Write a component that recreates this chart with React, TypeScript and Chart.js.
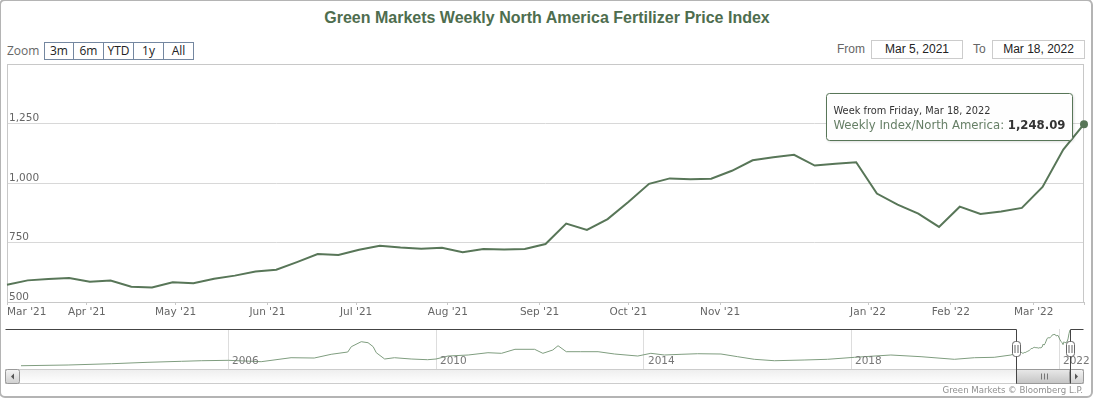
import React, { useEffect, useRef } from 'react';
import { Chart, registerables } from 'chart.js';

Chart.register(...registerables);

// ---------------- data ----------------
const TITLE = 'Green Markets Weekly North America Fertilizer Price Index';
const SERIES_NAME = 'Weekly Index/North America';
const CREDITS = 'Green Markets \u00A9 Bloomberg L.P.';
const ZOOM_BUTTONS = ['3m', '6m', 'YTD', '1y', 'All'];
const FROM_LABEL = 'Mar 5, 2021';
const TO_LABEL = 'Mar 18, 2022';

const weekDates = [
  '2021-03-05', '2021-03-12', '2021-03-19', '2021-03-26', '2021-04-02', '2021-04-09', '2021-04-16',
  '2021-04-23', '2021-04-30', '2021-05-07', '2021-05-14', '2021-05-21', '2021-05-28', '2021-06-04',
  '2021-06-11', '2021-06-18', '2021-06-25', '2021-07-02', '2021-07-09', '2021-07-16', '2021-07-23',
  '2021-07-30', '2021-08-06', '2021-08-13', '2021-08-20', '2021-08-27', '2021-09-03', '2021-09-10',
  '2021-09-17', '2021-09-24', '2021-10-01', '2021-10-08', '2021-10-15', '2021-10-22', '2021-10-29',
  '2021-11-05', '2021-11-12', '2021-11-19', '2021-12-03', '2021-12-10', '2021-12-17', '2021-12-24',
  '2022-01-07', '2022-01-14', '2022-01-21', '2022-01-28', '2022-02-04', '2022-02-11', '2022-02-18',
  '2022-02-25', '2022-03-04', '2022-03-11', '2022-03-18',
];
const weekValues = [
  573, 591, 597, 601, 585, 590, 564,
  561, 583, 579, 598, 611, 628, 636,
  668, 702, 698, 720, 737, 729, 724,
  728, 709, 723, 721, 723, 744, 830,
  803, 849, 921, 997, 1020, 1016, 1019,
  1052, 1096, 1109, 1119, 1074, 1082, 1088,
  956, 910, 872, 816, 901, 870, 881,
  896, 984, 1141, 1248.09,
];

const monthTickDates = [
  '2021-03-01', '2021-04-01', '2021-05-01', '2021-06-01', '2021-07-01', '2021-08-01',
  '2021-09-01', '2021-10-01', '2021-11-01', '2022-01-01', '2022-02-01', '2022-03-01',
];
const monthTickLabels = [
  "Mar '21", "Apr '21", "May '21", "Jun '21", "Jul '21", "Aug '21",
  "Sep '21", "Oct '21", "Nov '21", "Jan '22", "Feb '22", "Mar '22",
];
const yTickValues = [500, 750, 1000, 1250];
const yAxisMin = 500;
const yAxisMax = 1500;

// long history shown in the navigator (before the weekly window)
const navHistoryDates = [
  '2002-01-04', '2002-12-01', '2003-10-01', '2004-06-15', '2005-02-05', '2005-06-25', '2006-01-01',
  '2006-08-20', '2007-03-18', '2007-08-28', '2007-12-25', '2008-04-20', '2008-05-15', '2008-07-24',
  '2008-09-10', '2008-10-16', '2008-11-07', '2009-01-05', '2009-03-15', '2009-07-10', '2009-11-03',
  '2010-01-01', '2010-03-26', '2010-08-15', '2011-01-01', '2011-04-06', '2011-07-10', '2011-11-25',
  '2012-01-22', '2012-04-01', '2012-05-08', '2012-07-05', '2012-10-15', '2013-02-14', '2013-06-10',
  '2013-11-20', '2014-02-20', '2014-05-26', '2014-09-20', '2015-01-15', '2015-06-28', '2015-10-23',
  '2016-02-17', '2016-07-08', '2017-02-02', '2017-07-16', '2018-01-23', '2018-10-05', '2019-05-05',
  '2019-12-25', '2020-05-15', '2020-10-01', '2021-01-27',
];
const navHistoryValues = [
  191, 212, 250, 292, 322, 339, 351,
  310, 428, 419, 529, 597, 754, 902,
  872, 754, 576, 390, 428, 390, 369,
  390, 478, 508, 576, 558, 677, 677,
  558, 656, 783, 606, 606, 606, 538,
  478, 558, 508, 529, 546, 538, 458,
  381, 339, 360, 381, 440, 508, 458,
  381, 428, 440, 508,
];
const navYearTicks = [2006, 2010, 2014, 2018, 2022];
const navYMin = 94;
const navYMax = 1278;

// ---------------- styles ----------------
const LINE_COLOR = '#587658';
const NAV_LINE_COLOR = '#7f9d7f';
const TITLE_COLOR = '#4e6d4e';
const AXIS_FONT = 'DejaVu Sans';

// ---------------- helpers ----------------
const ts = (s: string) => Date.parse(s + 'T00:00:00Z');
const toYear = (s: string) => {
  const y = +s.slice(0, 4);
  const a = Date.UTC(y, 0, 1);
  const b = Date.UTC(y + 1, 0, 1);
  return y + (ts(s) - a) / (b - a);
};
const ordinalIndex = (s: string) => {
  const t = ts(s);
  const list = weekDates.map(ts);
  if (t <= list[0]) return 0;
  for (let i = 1; i < list.length; i++) {
    if (t <= list[i]) return i - 1 + (t - list[i - 1]) / (list[i] - list[i - 1]);
  }
  return list.length - 1;
};
const MONTHS = ['Jan', 'Feb', 'Mar', 'Apr', 'May', 'Jun', 'Jul', 'Aug', 'Sep', 'Oct', 'Nov', 'Dec'];
const DAYS = ['Sunday', 'Monday', 'Tuesday', 'Wednesday', 'Thursday', 'Friday', 'Saturday'];
const fmtDate = (s: string) => {
  const d = new Date(ts(s));
  return `${MONTHS[d.getUTCMonth()]} ${d.getUTCDate()}, ${d.getUTCFullYear()}`;
};
const weekday = (s: string) => DAYS[new Date(ts(s)).getUTCDay()];

function roundRect(ctx: CanvasRenderingContext2D, x: number, y: number, w: number, h: number, r: number) {
  ctx.beginPath();
  ctx.moveTo(x + r, y);
  ctx.lineTo(x + w - r, y);
  ctx.arcTo(x + w, y, x + w, y + r, r);
  ctx.lineTo(x + w, y + h - r);
  ctx.arcTo(x + w, y + h, x + w - r, y + h, r);
  ctx.lineTo(x + r, y + h);
  ctx.arcTo(x, y + h, x, y + h - r, r);
  ctx.lineTo(x, y + r);
  ctx.arcTo(x, y, x + r, y, r);
  ctx.closePath();
}

const plotBorderPlugin = {
  id: 'plotBorder',
  beforeDatasetsDraw(chart: any) {
    const { ctx, chartArea: a } = chart;
    ctx.save();
    ctx.strokeStyle = '#c8c8c8';
    ctx.lineWidth = 1;
    ctx.strokeRect(Math.round(a.left) + 0.5, Math.round(a.top) + 0.5, Math.round(a.right - a.left) - 1, Math.round(a.bottom - a.top));
    ctx.restore();
  },
};

const tooltipPlugin = {
  id: 'fixedTooltip',
  afterDraw(chart: any) {
    const meta = chart.getDatasetMeta(0);
    const i = weekValues.length - 1;
    const pt = meta.data[i];
    if (!pt) return;
    const { ctx } = chart;
    const l1 = `Week from ${weekday(weekDates[i])}, ${fmtDate(weekDates[i])}`;
    const l2a = `${SERIES_NAME}: `;
    const l2b = weekValues[i].toLocaleString('en-US', { minimumFractionDigits: 2, maximumFractionDigits: 2 });
    const f1 = `9.8px "${AXIS_FONT}"`;
    const f2 = `11.7px "${AXIS_FONT}"`;
    const f2b = `bold 11.7px "${AXIS_FONT}"`;
    ctx.save();
    ctx.font = f1;
    const w1 = ctx.measureText(l1).width;
    ctx.font = f2;
    const w2a = ctx.measureText(l2a).width;
    ctx.font = f2b;
    const w2b = ctx.measureText(l2b).width;
    const pad = 7;
    const w = Math.round(Math.max(w1, w2a + w2b) + pad * 2);
    const h = 47;
    const x = Math.round(pt.x - 12 - w) + 0.5;
    const y = Math.round(pt.y - 31) + 0.5;
    ctx.shadowColor = 'rgba(0,0,0,0.18)';
    ctx.shadowBlur = 3;
    ctx.shadowOffsetX = 1;
    ctx.shadowOffsetY = 1;
    roundRect(ctx, x, y, w, h, 3);
    ctx.fillStyle = 'rgba(255,255,255,0.96)';
    ctx.fill();
    ctx.shadowColor = 'transparent';
    ctx.strokeStyle = LINE_COLOR;
    ctx.lineWidth = 1;
    ctx.stroke();
    ctx.textBaseline = 'middle';
    ctx.textAlign = 'left';
    ctx.font = f1;
    ctx.fillStyle = '#333333';
    ctx.fillText(l1, x + pad, y + 17.5);
    ctx.font = f2;
    ctx.fillStyle = '#667f66';
    ctx.fillText(l2a, x + pad, y + 32.5);
    ctx.font = f2b;
    ctx.fillStyle = '#333333';
    ctx.fillText(l2b, x + pad + w2a, y + 32.5);
    ctx.restore();
  },
};

const navigatorPlugin = {
  id: 'navigatorDecor',
  afterDraw(chart: any) {
    const { ctx, chartArea: a } = chart;
    const xs = chart.scales.x;
    const lx = Math.round(xs.getPixelForValue(toYear(weekDates[0]))) + 0.5;
    const rx = Math.round(xs.getPixelForValue(toYear(weekDates[weekDates.length - 1]))) + 0.5;
    const sb = 14;
    const top = Math.round(a.top) + 0.5;
    const sbTop = Math.round(a.bottom) + 0.5;
    const sbBottom = sbTop + sb;
    const sbLeft = Math.round(a.left) - sb - 1.5;
    const sbRight = Math.round(a.right) + sb - 0.5;
    ctx.save();
    ctx.lineWidth = 1;

    // year labels inside the navigator
    ctx.font = `10.5px "${AXIS_FONT}"`;
    ctx.fillStyle = '#777777';
    ctx.textAlign = 'left';
    ctx.textBaseline = 'middle';
    for (const yr of navYearTicks) {
      const px = xs.getPixelForValue(yr);
      ctx.fillText(String(yr), Math.round(px) + 4, a.bottom - 7.5);
    }

    // scrollbar track
    let g = ctx.createLinearGradient(0, sbTop, 0, sbBottom);
    g.addColorStop(0, '#eeeeee');
    g.addColorStop(1, '#ffffff');
    ctx.fillStyle = g;
    ctx.fillRect(sbLeft, sbTop, sbRight - sbLeft, sb);
    ctx.strokeStyle = '#cccccc';
    ctx.strokeRect(sbLeft, sbTop, sbRight - sbLeft, sb);

    // scrollbar thumb
    g = ctx.createLinearGradient(0, sbTop, 0, sbBottom);
    g.addColorStop(0, '#e8e8e8');
    g.addColorStop(1, '#c4c4c4');
    ctx.fillStyle = g;
    ctx.fillRect(lx, sbTop, rx - lx, sb);
    ctx.strokeStyle = '#999999';
    ctx.strokeRect(lx, sbTop, rx - lx, sb);
    const cx = Math.round((lx + rx) / 2) + 0.5;
    ctx.strokeStyle = '#777777';
    ctx.beginPath();
    for (const d of [-3, 0, 3]) {
      ctx.moveTo(cx + d, sbTop + 4);
      ctx.lineTo(cx + d, sbTop + 10);
    }
    ctx.stroke();

    // scrollbar buttons
    const drawButton = (bx: number, dir: number) => {
      const gg = ctx.createLinearGradient(0, sbTop, 0, sbBottom);
      gg.addColorStop(0, '#f4f4f4');
      gg.addColorStop(1, '#d0d0d0');
      roundRect(ctx, bx, sbTop, sb, sb, 2);
      ctx.fillStyle = gg;
      ctx.fill();
      ctx.strokeStyle = '#999999';
      ctx.stroke();
      const mx = bx + sb / 2;
      const my = sbTop + sb / 2;
      ctx.beginPath();
      ctx.moveTo(mx - 1.5 * dir, my);
      ctx.lineTo(mx + 1.5 * dir, my - 3);
      ctx.lineTo(mx + 1.5 * dir, my + 3);
      ctx.closePath();
      ctx.fillStyle = '#555555';
      ctx.fill();
    };
    drawButton(sbLeft, 1);
    drawButton(sbRight - sb, -1);

    // outline
    ctx.strokeStyle = '#444444';
    ctx.beginPath();
    ctx.moveTo(sbLeft, top);
    ctx.lineTo(lx, top);
    ctx.lineTo(lx, sbBottom);
    ctx.moveTo(rx, sbBottom);
    ctx.lineTo(rx, top);
    ctx.lineTo(sbRight, top);
    ctx.stroke();

    // handles
    const my = Math.round((a.top + a.bottom) / 2);
    for (const hx of [lx, rx]) {
      roundRect(ctx, hx - 4, my - 7.5, 8, 15, 3);
      ctx.fillStyle = '#ffffff';
      ctx.fill();
      ctx.strokeStyle = '#666666';
      ctx.stroke();
      ctx.beginPath();
      ctx.moveTo(hx - 1.5, my - 4);
      ctx.lineTo(hx - 1.5, my + 4);
      ctx.moveTo(hx + 1.5, my - 4);
      ctx.lineTo(hx + 1.5, my + 4);
      ctx.stroke();
    }
    ctx.restore();
  },
};

// ---------------- component ----------------
export default function App() {
  const mainRef = useRef<HTMLCanvasElement | null>(null);
  const navRef = useRef<HTMLCanvasElement | null>(null);

  useEffect(() => {
    const axisFont = { family: AXIS_FONT, size: 10.5 };
    const monthPos = monthTickDates.map(ordinalIndex);
    const lastIdx = weekValues.length - 1;

    const main = new Chart(mainRef.current as HTMLCanvasElement, {
      type: 'line',
      data: {
        datasets: [
          {
            label: SERIES_NAME,
            data: weekValues.map((v, i) => ({ x: i, y: v })),
            borderColor: LINE_COLOR,
            backgroundColor: LINE_COLOR,
            borderWidth: 2,
            tension: 0,
            fill: false,
            clip: false,
            pointRadius: (c: any) => (c.dataIndex === lastIdx ? 4 : 0),
            pointBackgroundColor: LINE_COLOR,
            pointBorderWidth: 0,
          },
        ],
      },
      options: {
        responsive: false,
        animation: false,
        devicePixelRatio: 1,
        events: [],
        layout: { padding: { left: 7, right: 10, top: 8, bottom: 0 } },
        plugins: { legend: { display: false }, tooltip: { enabled: false }, title: { display: false } },
        scales: {
          x: {
            type: 'linear',
            min: 0,
            max: lastIdx,
            afterBuildTicks: (s: any) => {
              s.ticks = monthPos.map((v) => ({ value: v })).concat([{ value: lastIdx }]);
            },
            afterFit: (s: any) => {
              s.height = 24;
            },
            grid: { drawOnChartArea: false, drawTicks: true, tickLength: 3, color: '#c8c8c8' },
            border: { display: false },
            ticks: {
              autoSkip: false,
              maxRotation: 0,
              align: 'inner',
              padding: 1,
              color: '#666666',
              font: axisFont,
              callback: (_v: any, i: number) => monthTickLabels[i] ?? '',
            },
          },
          y: {
            type: 'linear',
            min: yAxisMin,
            max: yAxisMax,
            afterBuildTicks: (s: any) => {
              s.ticks = yTickValues.concat([yAxisMax]).map((v) => ({ value: v }));
            },
            afterFit: (s: any) => {
              s.width = 0;
            },
            grid: { color: '#d8d8d8', drawTicks: false },
            border: { display: false },
            ticks: {
              mirror: true,
              padding: 2,
              labelOffset: -5,
              color: '#666666',
              font: axisFont,
              callback: (v: any) => (yTickValues.includes(v) ? Number(v).toLocaleString('en-US') : ''),
            },
          },
        },
      } as any,
      plugins: [plotBorderPlugin, tooltipPlugin],
    });

    const navData = [
      ...navHistoryDates.map((d, i) => ({ x: toYear(d), y: navHistoryValues[i] })),
      ...weekDates.map((d, i) => ({ x: toYear(d), y: weekValues[i] })),
    ];

    const nav = new Chart(navRef.current as HTMLCanvasElement, {
      type: 'line',
      data: {
        datasets: [
          {
            data: navData,
            borderColor: NAV_LINE_COLOR,
            borderWidth: 1,
            pointRadius: 0,
            tension: 0,
            fill: false,
          },
        ],
      },
      options: {
        responsive: false,
        animation: false,
        devicePixelRatio: 1,
        events: [],
        layout: { padding: { left: 21, right: 24, top: 3, bottom: 30 } },
        plugins: { legend: { display: false }, tooltip: { enabled: false } },
        scales: {
          x: {
            type: 'linear',
            min: navData[0].x,
            max: navData[navData.length - 1].x,
            afterBuildTicks: (s: any) => {
              s.ticks = navYearTicks.map((v) => ({ value: v }));
            },
            afterFit: (s: any) => {
              s.height = 0;
            },
            grid: { drawOnChartArea: true, drawTicks: false, color: '#dddddd' },
            border: { display: false },
            ticks: { display: false },
          },
          y: { display: false, min: navYMin, max: navYMax },
        },
      } as any,
      plugins: [navigatorPlugin],
    });

    return () => {
      main.destroy();
      nav.destroy();
    };
  }, []);

  const uiFont = '"Open Sans", "Noto Sans", sans-serif';
  const arial = '"Liberation Sans", Arial, sans-serif';

  return (
    <div style={{ position: 'absolute', left: 0, top: 0, width: 1094, height: 399, background: '#ffffff', overflow: 'hidden' }}>
      <div
        style={{
          position: 'absolute', left: 0, top: 8, width: 1094, textAlign: 'center', fontFamily: arial,
          fontWeight: 'bold', fontSize: 16, lineHeight: '20px', color: TITLE_COLOR,
        }}
      >
        {TITLE}
      </div>

      <div style={{ position: 'absolute', left: 7, top: 42, lineHeight: '18px', fontFamily: uiFont, fontSize: 12, color: '#666' }}>Zoom</div>
      <div style={{ position: 'absolute', left: 44, top: 42, display: 'flex' }}>
        {ZOOM_BUTTONS.map((b, i) => (
          <div
            key={b}
            style={{
              width: 30, height: 18, boxSizing: 'border-box', border: '1px solid #7487a0',
              borderLeft: i === 0 ? '1px solid #7487a0' : 'none', textAlign: 'center', lineHeight: '16px',
              fontFamily: uiFont, fontSize: 12, color: '#222', background: '#fff',
            }}
          >
            {b}
          </div>
        ))}
      </div>

      <div style={{ position: 'absolute', left: 837, top: 40, lineHeight: '19px', fontFamily: arial, fontSize: 12, color: '#666' }}>From</div>
      <div
        style={{
          position: 'absolute', left: 871, top: 40, width: 92, height: 19, boxSizing: 'border-box', border: '1px solid #cccccc',
          textAlign: 'center', lineHeight: '17px', fontFamily: arial, fontSize: 12, color: '#222',
        }}
      >
        {FROM_LABEL}
      </div>
      <div style={{ position: 'absolute', left: 973, top: 40, lineHeight: '19px', fontFamily: arial, fontSize: 12, color: '#666' }}>To</div>
      <div
        style={{
          position: 'absolute', left: 992, top: 40, width: 93, height: 19, boxSizing: 'border-box', border: '1px solid #cccccc',
          textAlign: 'center', lineHeight: '17px', fontFamily: arial, fontSize: 12, color: '#222',
        }}
      >
        {TO_LABEL}
      </div>

      <canvas ref={mainRef} width={1094} height={270} style={{ position: 'absolute', left: 0, top: 56, width: 1094, height: 270 }} />
      <canvas ref={navRef} width={1094} height={73} style={{ position: 'absolute', left: 0, top: 326, width: 1094, height: 73 }} />

      <div
        style={{
          position: 'absolute', right: 11, top: 384, lineHeight: '12px', fontFamily: `"${AXIS_FONT}"`, fontSize: 8.6,
          color: '#909090', whiteSpace: 'nowrap',
        }}
      >
        {CREDITS}
      </div>

      <div
        style={{
          position: 'absolute', left: -1, top: -1, width: 1094, height: 399, boxSizing: 'border-box',
          border: '2px solid #b4b4b4', borderRadius: 6, pointerEvents: 'none',
        }}
      />
    </div>
  );
}
